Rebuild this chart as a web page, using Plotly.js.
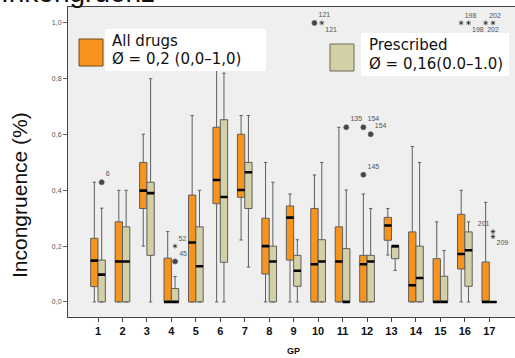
<!DOCTYPE html>
<html><head><meta charset="utf-8">
<script src="https://cdn.plot.ly/plotly-3.0.1.min.js"></script>
<style>html,body{margin:0;padding:0;background:#fff}#c{width:515px;height:358px}</style>
</head><body><div id="c"></div>
<script>
// ---- data ----
const gp = [1,2,3,4,5,6,7,8,9,10,11,12,13,14,15,16,17];
const tickLabelsX = gp.map(String);
const yTickVals = [0,0.2,0.4,0.6,0.8,1.0];
const yTickText = ['0,0','0,2','0,4','0,6','0,8','1,0'];

// All drugs
const allQ1  = [0.055,0,0.335,0,0,0.352,0.375,0.1,0.15,0,0,0,0.221,0,0,0.118,0];
const allMed = [0.148,0.145,0.399,0,0.213,0.437,0.401,0.2,0.302,0.135,0.145,0.135,0.274,0.06,0,0.172,0];
const allQ3  = [0.228,0.287,0.5,0.157,0.383,0.626,0.601,0.3,0.344,0.335,0.269,0.167,0.303,0.251,0.155,0.314,0.143];
const allLo  = [0,0,0.2,0,0,0,0.222,0,0,0,0,0,0.168,0,0,0,0];
const allHi  = [0.429,0.4,0.601,0.252,0.668,0.85,0.668,0.5,0.387,0.455,0.626,0.387,0.335,0.557,0.287,0.4,0.357];
// Prescribed
const preQ1  = [0,0,0.167,0,0,0.142,0.335,0,0.056,0,0,0,0.155,0,0,0.056,0];
const preMed = [0.098,0.145,0.39,0,0.128,0.376,0.465,0.145,0.112,0.145,0,0.145,0.2,0.086,0,0.185,0];
const preQ3  = [0.15,0.269,0.429,0.048,0.269,0.653,0.5,0.2,0.167,0.223,0.191,0.167,0.2,0.2,0.092,0.251,0];
const preLo  = [0,0,0,0,0,0,0.125,0,0,0,0,0,0.113,0,0,0,0];
const preHi  = [0.336,0.4,0.8,0.091,0.4,0.82,0.668,0.429,0.223,0.5,0.401,0.335,0.2,0.5,0.184,0.287,0];

// outliers
const allOutGp  = [10,12,12,16,17];
const allOutY   = [1.0,0.626,0.456,1.0,1.0];
const allOutLab = ['121','154','145','198','202'];
const allOutSym = ['circle','circle','circle','asterisk-open','asterisk-open'];
const allOutPos = ['top right','top right','top right','top right','top right'];

const preOutGp  = [1,4,4,10,11,12,16,17,17,17];
const preOutY   = [0.429,0.145,0.2,1.0,0.626,0.601,1.0,1.0,0.252,0.234];
const preOutLab = ['6','45','52','121','135','154','198','202','201','209'];
const preOutSym = ['circle','circle','asterisk-open','asterisk-open','circle','circle','asterisk-open','asterisk-open','asterisk-open','asterisk-open'];
const preOutPos = ['top right','top right','top right','bottom right','top right','top right','bottom right','bottom center','top left','bottom right'];

// ---- style ----
const ORANGE = '#F7941D', BEIGE = '#D4D0A6';
const SHIFT = 0.15, BW = 0.3;
const L = 68, T = 7, PW = 447, PH = 310;
const px = x => (x - L) / PW;
const py = y => (T + PH - y) / PH;

function boxTrace(off, q1, med, q3, lo, hi, fill) {
  return {type:'box', x: gp.map(g => g + off), q1, median: med, q3,
    lowerfence: lo, upperfence: hi, width: BW, fillcolor: fill,
    line:{color:'#5e5e5e', width:1}, whiskerwidth:0.45, boxpoints:false,
    hoverinfo:'skip', showlegend:false};
}
function medTrace(off, med) {
  return {type:'box', x: gp.map(g => g + off), q1: med, median: med, q3: med,
    lowerfence: med, upperfence: med, width: BW, fillcolor:'rgba(0,0,0,0)',
    line:{color:'#000', width:2.6}, whiskerwidth:0, boxpoints:false,
    hoverinfo:'skip', showlegend:false};
}
function outTrace(off, gps, ys, labs, syms, pos) {
  return {type:'scatter', mode:'markers+text', x: gps.map(g => g + off), y: ys,
    text: labs, textposition: pos,
    textfont:{family:'Liberation Sans Narrow, Liberation Sans', size:7, color:'#555'},
    marker:{symbol: syms, size: syms.map(s => s === 'circle' ? 5 : 4), color:'#000',
      line:{color:'#222', width:0.8}},
    cliponaxis:false, hoverinfo:'skip', showlegend:false};
}

const data = [
  boxTrace(-SHIFT, allQ1, allMed, allQ3, allLo, allHi, ORANGE),
  boxTrace(SHIFT, preQ1, preMed, preQ3, preLo, preHi, BEIGE),
  medTrace(-SHIFT, allMed),
  medTrace(SHIFT, preMed),
  outTrace(-SHIFT, allOutGp, allOutY, allOutLab, allOutSym, allOutPos),
  outTrace(SHIFT, preOutGp, preOutY, preOutLab, preOutSym, preOutPos)
];

const legFont = {family:'DejaVu Sans', size:15, color:'#111'};
const layout = {
  width:515, height:358,
  margin:{l:L, r:0, t:T, b:358 - T - PH},
  paper_bgcolor:'#fff', plot_bgcolor:'#efefef',
  boxmode:'overlay', showlegend:false,
  xaxis:{range:[-0.227, 18.05], tickvals: gp, ticktext: tickLabelsX,
    ticks:'outside', ticklen:4, tickcolor:'#444', showline:true, linecolor:'#444', mirror:true,
    showgrid:false, zeroline:false,
    tickfont:{family:'Liberation Sans Narrow, Liberation Sans', size:11, color:'#111', weight:'bold'}},
  yaxis:{range:[-0.054, 1.057], tickvals: yTickVals, ticktext: yTickText,
    ticks:'outside', ticklen:4, tickcolor:'#666', showline:true, linecolor:'#444',
    showgrid:false, zeroline:false,
    tickfont:{family:'Liberation Sans Narrow, Liberation Sans', size:7, color:'#555'}},
  shapes:[
    {type:'rect', xref:'paper', yref:'paper', x0:px(105), x1:px(266), y0:py(71), y1:py(29),
      fillcolor:'#fff', line:{width:0}, layer:'above'},
    {type:'rect', xref:'paper', yref:'paper', x0:px(79), x1:px(103), y0:py(66), y1:py(39),
      fillcolor:ORANGE, line:{color:'#6b4a1f', width:1}, layer:'above'},
    {type:'rect', xref:'paper', yref:'paper', x0:px(361), x1:px(509), y0:py(76), y1:py(33),
      fillcolor:'#fff', line:{width:0}, layer:'above'},
    {type:'rect', xref:'paper', yref:'paper', x0:px(330), x1:px(354), y0:py(71), y1:py(44),
      fillcolor:BEIGE, line:{color:'#6e6b55', width:1}, layer:'above'}
  ],
  annotations:[
    {text:'Inkongruenz', xref:'paper', yref:'paper', x:px(-1), y:1, xanchor:'left', yanchor:'bottom',
      yshift:-3, showarrow:false, font:{family:'Liberation Sans', size:28, color:'#111'}},
    {text:'Incongruence (%)', xref:'paper', yref:'paper', x:px(19), y:py(195), xanchor:'center', yanchor:'middle',
      textangle:-90, showarrow:false, font:{family:'Liberation Sans', size:21, color:'#111'}},
    {text:'GP', xref:'paper', yref:'paper', x:px(293), y:py(351), xanchor:'center', yanchor:'middle',
      showarrow:false, font:{family:'Liberation Sans Narrow, Liberation Sans', size:9, color:'#111', weight:'bold'}},
    {text:'All drugs', xref:'paper', yref:'paper', x:px(110), y:py(41), xanchor:'left', yanchor:'middle', showarrow:false, font:legFont},
    {text:'Ø = 0,2 (0,0–1,0)', xref:'paper', yref:'paper', x:px(110), y:py(59), xanchor:'left', yanchor:'middle', showarrow:false, font:legFont},
    {text:'Prescribed', xref:'paper', yref:'paper', x:px(367), y:py(45), xanchor:'left', yanchor:'middle', showarrow:false, font:legFont},
    {text:'Ø = 0,16(0.0–1.0)', xref:'paper', yref:'paper', x:px(367), y:py(64), xanchor:'left', yanchor:'middle', showarrow:false, font:legFont}
  ]
};
Plotly.newPlot('c', data, layout, {displayModeBar:false, staticPlot:true});
</script></body></html>
